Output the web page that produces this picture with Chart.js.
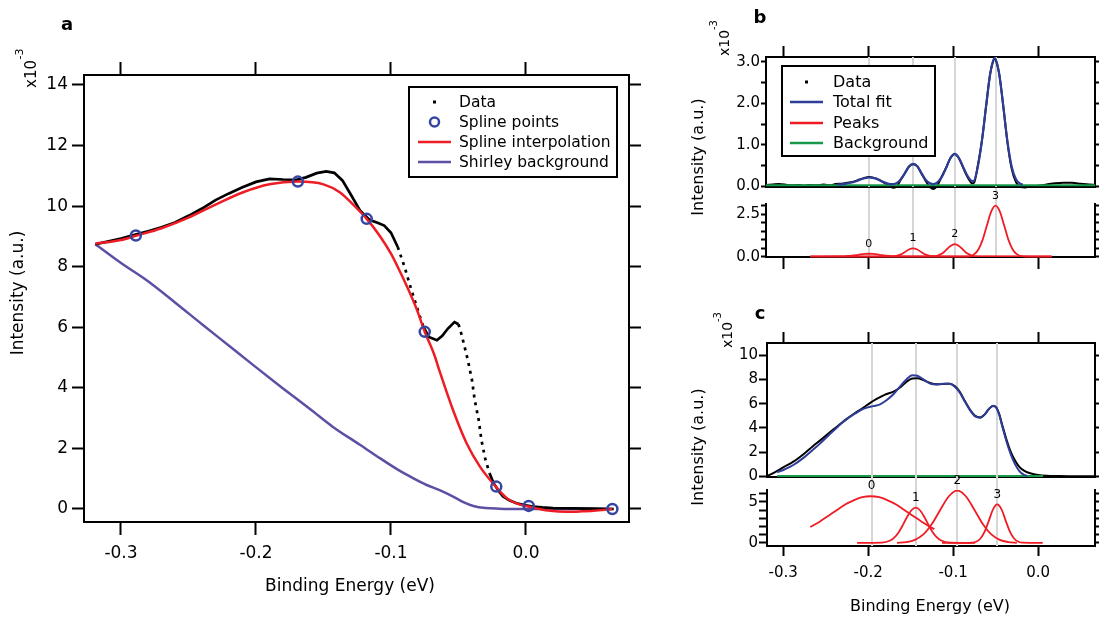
<!DOCTYPE html>
<html>
<head>
<meta charset="utf-8">
<title>Spline background and peak fits</title>
<script src="https://cdn.jsdelivr.net/npm/chart.js@4.4.1/dist/chart.umd.min.js"></script>
<style>
  html, body { margin: 0; padding: 0; background: #fff; }
  #wrap { position: relative; width: 1099px; height: 617px; overflow: hidden; background: #fff; }
  canvas { position: absolute; }
</style>
</head>
<body>
<div id="wrap">
  <canvas id="chartA" width="660" height="617" style="left:0px;top:0px"></canvas>
  <canvas id="chartBTop" width="409" height="262" style="left:690px;top:0px"></canvas>
  <canvas id="chartBBot" width="409" height="82" style="left:690px;top:188px"></canvas>
  <canvas id="chartCTop" width="409" height="262" style="left:690px;top:290px"></canvas>
  <canvas id="chartCBot" width="409" height="143" style="left:690px;top:474px"></canvas>
</div>
<script>
// ---- panel a : data, spline through chosen points, Shirley background (x10^-3) ----
const aDataX = [-0.319, -0.310, -0.300, -0.290, -0.280, -0.270, -0.260, -0.250, -0.240, -0.230, -0.220, -0.210, -0.200, -0.190, -0.180, -0.170, -0.163, -0.155, -0.148, -0.142, -0.136, -0.130, -0.123, -0.116, -0.110, -0.105, -0.100, -0.095, -0.090, -0.085, -0.080, -0.076, -0.072, -0.066, -0.062, -0.058, -0.053, -0.050, -0.048, -0.046, -0.043, -0.040, -0.038, -0.035, -0.033, -0.030, -0.027, -0.024, -0.020, -0.017, -0.012, -0.007, 0.000, 0.005, 0.012, 0.020, 0.035, 0.050, 0.065];
const aDataY = [8.74, 8.83, 8.93, 9.05, 9.17, 9.30, 9.46, 9.68, 9.92, 10.20, 10.42, 10.62, 10.80, 10.90, 10.88, 10.87, 10.95, 11.09, 11.15, 11.10, 10.85, 10.40, 9.86, 9.55, 9.45, 9.36, 9.12, 8.65, 8.00, 7.25, 6.55, 6.01, 5.68, 5.57, 5.72, 5.95, 6.17, 6.10, 5.80, 5.45, 4.90, 4.25, 3.60, 2.93, 2.27, 1.62, 1.18, 0.85, 0.58, 0.41, 0.28, 0.19, 0.12, 0.08, 0.05, 0.03, 0.02, 0.01, 0.00];
const aSplineX = [-0.319, -0.300, -0.289, -0.270, -0.250, -0.230, -0.210, -0.190, -0.169, -0.150, -0.138, -0.128, -0.118, -0.108, -0.100, -0.094, -0.088, -0.081, -0.075, -0.068, -0.064, -0.054, -0.044, -0.034, -0.022, -0.014, -0.005, 0.002, 0.010, 0.018, 0.030, 0.040, 0.050, 0.064];
const aSplineY = [8.76, 8.88, 9.02, 9.27, 9.62, 10.05, 10.45, 10.72, 10.81, 10.72, 10.46, 10.05, 9.58, 9.00, 8.43, 7.90, 7.33, 6.60, 5.85, 5.10, 4.55, 3.26, 2.17, 1.39, 0.72, 0.35, 0.15, 0.08, 0.00, -0.06, -0.09, -0.08, -0.06, 0.00];
const aKnotX = [-0.289, -0.169, -0.118, -0.075, -0.022, 0.002, 0.064];
const aKnotY = [9.03, 10.81, 9.58, 5.85, 0.74, 0.10, 0.00];
const aShirleyX = [-0.319, -0.300, -0.281, -0.260, -0.240, -0.220, -0.202, -0.180, -0.160, -0.143, -0.123, -0.108, -0.095, -0.085, -0.074, -0.064, -0.054, -0.046, -0.039, -0.030, -0.020, 0.000, 0.064];
const aShirleyY = [8.74, 8.12, 7.55, 6.82, 6.10, 5.39, 4.75, 3.98, 3.30, 2.71, 2.12, 1.67, 1.30, 1.05, 0.80, 0.62, 0.41, 0.22, 0.10, 0.03, 0.01, 0.00, 0.00];
const legendA = ['Data', 'Spline points', 'Spline interpolation', 'Shirley background'];

// ---- panel b : background-subtracted data, total fit and the four peaks ----
const bDataX = [-0.320, -0.312, -0.305, -0.298, -0.290, -0.282, -0.275, -0.268, -0.260, -0.252, -0.245, -0.238, -0.231, -0.224, -0.217, -0.210, -0.204, -0.199, -0.193, -0.187, -0.181, -0.175, -0.170, -0.166, -0.162, -0.157, -0.152, -0.147, -0.142, -0.137, -0.132, -0.127, -0.123, -0.119, -0.114, -0.108, -0.103, -0.098, -0.093, -0.088, -0.083, -0.078, -0.075, -0.071, -0.066, -0.061, -0.056, -0.051, -0.046, -0.041, -0.036, -0.031, -0.026, -0.021, -0.015, -0.008, 0.000, 0.010, 0.020, 0.030, 0.040, 0.050, 0.060, 0.067];
const bDataY = [0.03, 0.04, 0.05, 0.04, 0.02, 0.03, 0.01, 0.03, 0.02, 0.04, 0.02, 0.05, 0.06, 0.08, 0.11, 0.16, 0.20, 0.22, 0.20, 0.15, 0.08, 0.01, -0.04, 0.00, 0.14, 0.30, 0.47, 0.53, 0.48, 0.30, 0.12, -0.02, -0.07, 0.00, 0.20, 0.45, 0.68, 0.78, 0.67, 0.44, 0.22, 0.07, 0.09, 0.48, 1.10, 1.95, 2.75, 3.08, 2.75, 1.95, 1.06, 0.42, 0.10, -0.02, -0.03, -0.01, 0.01, 0.04, 0.07, 0.085, 0.08, 0.06, 0.04, 0.03];
const bFitX = [-0.236, -0.229, -0.224, -0.219, -0.214, -0.209, -0.204, -0.199, -0.194, -0.189, -0.184, -0.179, -0.174, -0.170, -0.166, -0.162, -0.157, -0.152, -0.147, -0.142, -0.137, -0.132, -0.127, -0.123, -0.118, -0.113, -0.108, -0.103, -0.098, -0.093, -0.088, -0.083, -0.079, -0.076, -0.071, -0.066, -0.061, -0.056, -0.051, -0.046, -0.041, -0.036, -0.031, -0.026, -0.021, -0.018];
const bFitY = [0.04, 0.05, 0.07, 0.09, 0.12, 0.16, 0.19, 0.21, 0.20, 0.17, 0.12, 0.08, 0.05, 0.05, 0.08, 0.15, 0.30, 0.47, 0.54, 0.48, 0.31, 0.15, 0.07, 0.05, 0.10, 0.23, 0.45, 0.68, 0.78, 0.68, 0.46, 0.25, 0.14, 0.12, 0.45, 1.10, 1.95, 2.75, 3.10, 2.75, 1.95, 1.08, 0.47, 0.17, 0.06, 0.04];
const bBgX = [-0.320, 0.067];
const bBgY = [0.02, 0.02];
const bPeak0X = [-0.268, -0.236, -0.229, -0.224, -0.219, -0.214, -0.209, -0.204, -0.199, -0.194, -0.189, -0.184, -0.179, -0.174, -0.169, -0.162, 0.016];
const bPeak0Y = [0, 0.01, 0.02, 0.04, 0.06, 0.09, 0.13, 0.16, 0.17, 0.16, 0.13, 0.09, 0.06, 0.04, 0.02, 0.01, 0];
const bPeak1X = [-0.268, -0.175, -0.167, -0.162, -0.157, -0.152, -0.147, -0.142, -0.137, -0.132, -0.127, -0.119, 0.016];
const bPeak1Y = [0, 0, 0.04, 0.12, 0.26, 0.42, 0.49, 0.42, 0.26, 0.12, 0.04, 0, 0];
const bPeak2X = [-0.268, -0.126, -0.118, -0.113, -0.108, -0.103, -0.098, -0.093, -0.088, -0.083, -0.078, -0.070, 0.016];
const bPeak2Y = [0, 0, 0.06, 0.18, 0.40, 0.63, 0.74, 0.63, 0.40, 0.18, 0.06, 0, 0];
const bPeak3X = [-0.268, -0.082, -0.075, -0.070, -0.065, -0.060, -0.055, -0.050, -0.045, -0.040, -0.035, -0.030, -0.025, -0.018, 0.016];
const bPeak3Y = [0, 0, 0.15, 0.44, 1.02, 1.86, 2.66, 3.00, 2.66, 1.86, 1.02, 0.44, 0.15, 0.02, 0];
const bCenters = [-0.199, -0.147, -0.098, -0.050];
const legendB = ['Data', 'Total fit', 'Peaks', 'Background'];

// ---- panel c : raw data, total fit and the four peaks ----
const cDataX = [-0.320, -0.310, -0.300, -0.288, -0.275, -0.265, -0.256, -0.245, -0.235, -0.225, -0.215, -0.205, -0.198, -0.190, -0.180, -0.170, -0.162, -0.155, -0.148, -0.142, -0.135, -0.127, -0.119, -0.111, -0.104, -0.098, -0.092, -0.086, -0.080, -0.074, -0.068, -0.063, -0.058, -0.053, -0.050, -0.046, -0.042, -0.037, -0.032, -0.027, -0.022, -0.017, -0.012, -0.006, 0.000, 0.010, 0.025, 0.045, 0.067];
const cDataY = [0.00, 0.35, 0.75, 1.22, 1.90, 2.50, 3.00, 3.65, 4.20, 4.75, 5.25, 5.70, 6.05, 6.40, 6.75, 7.00, 7.35, 7.80, 8.08, 8.10, 7.95, 7.70, 7.60, 7.62, 7.65, 7.45, 6.95, 6.20, 5.50, 5.00, 4.87, 5.10, 5.55, 5.80, 5.75, 5.20, 4.20, 3.00, 2.00, 1.30, 0.80, 0.50, 0.33, 0.20, 0.13, 0.07, 0.04, 0.02, 0.02];
const cFitX = [-0.307, -0.298, -0.288, -0.275, -0.265, -0.256, -0.245, -0.235, -0.225, -0.215, -0.208, -0.200, -0.194, -0.186, -0.178, -0.170, -0.162, -0.155, -0.148, -0.142, -0.135, -0.127, -0.119, -0.111, -0.104, -0.098, -0.092, -0.086, -0.080, -0.074, -0.068, -0.063, -0.058, -0.053, -0.050, -0.046, -0.042, -0.037, -0.032, -0.027, -0.022, -0.017, -0.013];
const cFitY = [0.35, 0.60, 0.95, 1.60, 2.20, 2.75, 3.50, 4.15, 4.75, 5.20, 5.50, 5.70, 5.80, 5.95, 6.30, 6.80, 7.45, 8.00, 8.35, 8.30, 8.00, 7.65, 7.58, 7.65, 7.65, 7.40, 6.90, 6.15, 5.45, 4.95, 4.85, 5.10, 5.55, 5.82, 5.75, 5.15, 4.10, 2.85, 1.80, 1.00, 0.45, 0.15, 0.05];
const cBgX = [-0.307, 0.006];
const cBgY = [0.04, 0.04];
const cPeak0X = [-0.268, -0.257, -0.247, -0.237, -0.227, -0.217, -0.207, -0.197, -0.187, -0.177, -0.167, -0.157, -0.147, -0.137, -0.127, -0.122];
const cPeak0Y = [1.95, 2.6, 3.3, 4.0, 4.7, 5.2, 5.58, 5.7, 5.58, 5.2, 4.7, 4.0, 3.3, 2.6, 1.95, 1.7];
const cPeak1X = [-0.213, -0.184, -0.174, -0.169, -0.164, -0.159, -0.154, -0.149, -0.144, -0.139, -0.134, -0.129, -0.124, -0.119, -0.114, -0.104, -0.074];
const cPeak1Y = [0, 0.04, 0.30, 0.68, 1.32, 2.21, 3.20, 3.99, 4.3, 3.99, 3.20, 2.21, 1.32, 0.68, 0.30, 0.04, 0];
const cPeak2X = [-0.166, -0.155, -0.145, -0.135, -0.125, -0.115, -0.105, -0.095, -0.085, -0.075, -0.065, -0.055, -0.045, -0.035, -0.025];
const cPeak2Y = [0.02, 0.11, 0.38, 1.04, 2.31, 4.06, 5.7, 6.4, 5.7, 4.06, 2.31, 1.04, 0.38, 0.11, 0.02];
const cPeak3X = [-0.113, -0.083, -0.078, -0.073, -0.068, -0.063, -0.058, -0.053, -0.048, -0.043, -0.038, -0.033, -0.028, -0.023, -0.018, 0.0055];
const cPeak3Y = [0, 0, 0.03, 0.15, 0.51, 1.35, 2.70, 4.09, 4.7, 4.09, 2.70, 1.35, 0.51, 0.15, 0.03, 0];
const cCenters = [-0.196, -0.144, -0.095, -0.048];
const peakNames = ['0', '1', '2', '3'];

// ---- styles ----
const RED = '#ee1d25';
const KNOT_BLUE = '#3546a2';
const PURPLE = '#5d4fa4';
const FIT_BLUE = '#2e3d98';
const GREEN = '#17994a';
const GRAY = '#d6d6d6';
const FONT = "'DejaVu Sans', sans-serif";

Chart.defaults.font.family = FONT;
Chart.defaults.color = '#000';
Chart.defaults.animation = false;

function pts(xs, ys) {
  return xs.map(function (x, i) { return {x: x, y: ys[i]}; });
}

// force the size of an axis box so the plot areas land where the figure has them
function boxSize(px) {
  return function (scale) {
    if (scale.isHorizontal()) scale.height = px; else scale.width = px;
  };
}

function fmt1(v) { return Math.abs(v) < 1e-9 ? '0.0' : v.toFixed(1); }
function fmt0(v) { return String(Math.round(v)); }
function fmtWhole1(v) { return Math.abs(v - Math.round(v)) < 1e-6 ? fmt1(Math.round(v)) : ''; }
function fmtOnly(list, digits) {
  return function (v) {
    for (let i = 0; i < list.length; i++) {
      if (Math.abs(v - list[i]) < 1e-6) return list[i].toFixed(digits);
    }
    return '';
  };
}

function makeAxis(o) {
  return {
    type: 'linear',
    position: o.pos,
    min: o.min,
    max: o.max,
    afterFit: boxSize(o.size),
    border: {display: o.border !== false, color: '#000', width: 2},
    grid: {drawOnChartArea: false, drawTicks: !!o.tick, tickLength: o.tick || 0, tickWidth: 2, color: '#000'},
    ticks: {
      display: !!o.fmt,
      stepSize: o.step || 1,
      includeBounds: false,
      autoSkip: false,
      maxRotation: 0,
      padding: o.pad || 0,
      font: {size: o.fs || 15},
      callback: o.fmt || function () { return ''; }
    }
  };
}

function drawText(ctx, t, ox, oy) {
  ctx.save();
  ctx.translate(t.x - ox, t.y - oy);
  if (t.rot) ctx.rotate(t.rot * Math.PI / 180);
  ctx.font = t.font;
  ctx.fillStyle = '#000';
  ctx.textAlign = 'center';
  ctx.textBaseline = 'middle';
  ctx.fillText(t.text, 0, 0);
  ctx.restore();
}

function drawLegend(ctx, lg, ox, oy) {
  const x = lg.box[0] - ox, y = lg.box[1] - oy;
  const w = lg.box[2] - lg.box[0], h = lg.box[3] - lg.box[1];
  ctx.save();
  ctx.fillStyle = '#fff';
  ctx.fillRect(x, y, w, h);
  ctx.strokeStyle = '#000';
  ctx.lineWidth = 2;
  ctx.strokeRect(x, y, w, h);
  lg.items.forEach(function (it, i) {
    const cy = lg.rows[i] - oy;
    const s0 = lg.sym[0] - ox, s1 = lg.sym[1] - ox, mid = (s0 + s1) / 2;
    if (it.kind === 'line') {
      ctx.strokeStyle = it.color;
      ctx.lineWidth = 2.5;
      ctx.beginPath(); ctx.moveTo(s0, cy); ctx.lineTo(s1, cy); ctx.stroke();
    } else if (it.kind === 'dot') {
      ctx.fillStyle = it.color;
      ctx.fillRect(mid - 1.5, cy - 1.5, 3, 3);
    } else {
      ctx.strokeStyle = it.color;
      ctx.lineWidth = 2.5;
      ctx.beginPath(); ctx.arc(mid, cy, 4.5, 0, Math.PI * 2); ctx.stroke();
    }
    ctx.fillStyle = '#000';
    ctx.font = lg.font;
    ctx.textAlign = 'left';
    ctx.textBaseline = 'middle';
    ctx.fillText(it.label, lg.textX - ox, cy + 1);
  });
  ctx.restore();
}

// per-chart extras: grey peak markers, peak numbers, free texts, legend box
function extras(cfg) {
  return {
    id: 'extras',
    beforeDatasetsDraw: function (chart) {
      if (!cfg.vlines) return;
      const ctx = chart.ctx, sx = chart.scales.x, area = chart.chartArea;
      const y0 = cfg.vlines.fromCanvasTop ? 0 : area.top;
      ctx.save();
      ctx.strokeStyle = GRAY;
      ctx.lineWidth = 2;
      cfg.vlines.values.forEach(function (v) {
        const px = Math.round(sx.getPixelForValue(v));
        ctx.beginPath(); ctx.moveTo(px, y0); ctx.lineTo(px, area.bottom); ctx.stroke();
      });
      ctx.restore();
    },
    afterDraw: function (chart) {
      const ctx = chart.ctx;
      if (cfg.peaks) {
        const sx = chart.scales.x, sy = chart.scales.y;
        ctx.save();
        ctx.font = cfg.peaks.font;
        ctx.fillStyle = '#000';
        ctx.textAlign = 'center';
        ctx.textBaseline = 'middle';
        cfg.peaks.names.forEach(function (name, i) {
          const top = Math.max.apply(null, cfg.peaks.ys[i]);
          ctx.fillText(name, sx.getPixelForValue(cfg.peaks.centers[i]), sy.getPixelForValue(top) - 10);
        });
        ctx.restore();
      }
      (cfg.texts || []).forEach(function (t) { drawText(ctx, t, cfg.left, cfg.top); });
      if (cfg.legend) drawLegend(ctx, cfg.legend, cfg.left, cfg.top);
    }
  };
}

// steep stretches of the measured curve show up as separate dots
function steepDots(ctx) {
  const dx = Math.abs(ctx.p1.x - ctx.p0.x), dy = Math.abs(ctx.p1.y - ctx.p0.y);
  return dy > 2.5 * dx ? [3, 5] : undefined;
}

function baseOptions(scales, padTop) {
  return {
    responsive: false,
    animation: false,
    layout: {padding: {top: padTop || 0, left: 0, right: 0, bottom: 0}},
    plugins: {legend: {display: false}, tooltip: {enabled: false}},
    elements: {point: {radius: 0, hoverRadius: 0}},
    scales: scales
  };
}

// ---------------- panel a ----------------
const aX = [-0.3274, 0.0763], aY = [-0.43, 14.33];
new Chart(document.getElementById('chartA'), {
  type: 'line',
  data: {
    datasets: [
      {label: legendA[1], data: pts(aKnotX, aKnotY), showLine: false, pointRadius: 5, pointBorderWidth: 2.5,
        pointBorderColor: KNOT_BLUE, pointBackgroundColor: 'rgba(0,0,0,0)'},
      {label: legendA[2], data: pts(aSplineX, aSplineY), borderColor: RED, borderWidth: 2.5, cubicInterpolationMode: 'monotone'},
      {label: legendA[0], data: pts(aDataX, aDataY), borderColor: '#000', borderWidth: 2.7, borderCapStyle: 'butt',
        segment: {borderDash: steepDots}},
      {label: legendA[3], data: pts(aShirleyX, aShirleyY), borderColor: PURPLE, borderWidth: 2.5, cubicInterpolationMode: 'monotone'}
    ]
  },
  options: baseOptions({
    x: makeAxis({pos: 'bottom', min: aX[0], max: aX[1], step: 0.1, size: 95, tick: 13, pad: 8, fs: 17, fmt: fmt1}),
    x2: makeAxis({pos: 'top', min: aX[0], max: aX[1], step: 0.1, size: 75, tick: 13}),
    y: makeAxis({pos: 'left', min: aY[0], max: aY[1], step: 2, size: 84, tick: 12, pad: 4, fs: 17, fmt: fmt0}),
    y2: makeAxis({pos: 'right', min: aY[0], max: aY[1], step: 2, size: 31, tick: 12})
  }),
  plugins: [extras({
    left: 0, top: 0,
    texts: [
      {text: 'a', x: 67, y: 25, font: 'bold 18px ' + FONT},
      {text: 'x10', x: 32, y: 74, rot: -90, font: '15px ' + FONT},
      {text: '-3', x: 20, y: 54, rot: -90, font: '11px ' + FONT},
      {text: 'Intensity (a.u.)', x: 19, y: 293, rot: -90, font: '17px ' + FONT},
      {text: 'Binding Energy (eV)', x: 350, y: 587, font: '17px ' + FONT}
    ],
    legend: {
      box: [409, 87, 617, 177], rows: [102, 122, 142, 162], sym: [418, 451], textX: 459, font: '15.5px ' + FONT,
      items: [
        {label: legendA[0], kind: 'dot', color: '#000'},
        {label: legendA[1], kind: 'circle', color: KNOT_BLUE},
        {label: legendA[2], kind: 'line', color: RED},
        {label: legendA[3], kind: 'line', color: PURPLE}
      ]
    }
  })]
});

// ---------------- panel b ----------------
const bX = [-0.320, 0.067];
new Chart(document.getElementById('chartBTop'), {
  type: 'line',
  data: {
    datasets: [
      {label: legendB[1], data: pts(bFitX, bFitY), borderColor: FIT_BLUE, borderWidth: 2.2, cubicInterpolationMode: 'monotone'},
      {label: legendB[3], data: pts(bBgX, bBgY), borderColor: GREEN, borderWidth: 2},
      {label: legendB[0], data: pts(bDataX, bDataY), borderColor: '#000', borderWidth: 2, tension: 0.3,
        clip: {left: 2, top: 2, right: 2, bottom: 6}}
    ]
  },
  options: baseOptions({
    x: makeAxis({pos: 'bottom', min: bX[0], max: bX[1], step: 0.1, size: 75}),
    x2: makeAxis({pos: 'top', min: bX[0], max: bX[1], step: 0.1, size: 57, tick: 11}),
    y: makeAxis({pos: 'left', min: -0.02, max: 3.12, step: 0.5, size: 76, tick: 5, pad: 1, fs: 15, fmt: fmtWhole1}),
    y2: makeAxis({pos: 'right', min: -0.02, max: 3.12, step: 0.5, size: 4, tick: 4})
  }),
  plugins: [extras({
    left: 690, top: 0,
    vlines: {values: bCenters, fromCanvasTop: false},
    texts: [
      {text: 'b', x: 760, y: 18, font: 'bold 18px ' + FONT},
      {text: 'x10', x: 725, y: 43, rot: -90, font: '14px ' + FONT},
      {text: '-3', x: 714, y: 25, rot: -90, font: '10px ' + FONT},
      {text: 'Intensity (a.u.)', x: 699, y: 157, rot: -90, font: '16px ' + FONT}
    ],
    legend: {
      box: [782, 66, 935, 156], rows: [82, 102, 123, 143], sym: [790, 823], textX: 833, font: '16px ' + FONT,
      items: [
        {label: legendB[0], kind: 'dot', color: '#000'},
        {label: legendB[1], kind: 'line', color: FIT_BLUE},
        {label: legendB[2], kind: 'line', color: RED},
        {label: legendB[3], kind: 'line', color: GREEN}
      ]
    }
  })]
});

const bPeaksY = [bPeak0Y, bPeak1Y, bPeak2Y, bPeak3Y];
new Chart(document.getElementById('chartBBot'), {
  type: 'line',
  data: {
    datasets: [
      {label: 'Peak 0', data: pts(bPeak0X, bPeak0Y), borderColor: RED, borderWidth: 1.8, cubicInterpolationMode: 'monotone'},
      {label: 'Peak 1', data: pts(bPeak1X, bPeak1Y), borderColor: RED, borderWidth: 1.8, cubicInterpolationMode: 'monotone'},
      {label: 'Peak 2', data: pts(bPeak2X, bPeak2Y), borderColor: RED, borderWidth: 1.8, cubicInterpolationMode: 'monotone'},
      {label: 'Peak 3', data: pts(bPeak3X, bPeak3Y), borderColor: RED, borderWidth: 1.8, cubicInterpolationMode: 'monotone',
        clip: {left: 2, top: 4, right: 2, bottom: 2}}
    ]
  },
  options: baseOptions({
    x: makeAxis({pos: 'bottom', min: bX[0], max: bX[1], step: 0.1, size: 13, tick: 12}),
    y: makeAxis({pos: 'left', min: -0.02, max: 3.1, step: 0.5, size: 76, tick: 5, pad: 1, fs: 15, fmt: fmtOnly([0, 2.5], 1)}),
    y2: makeAxis({pos: 'right', min: -0.02, max: 3.1, step: 0.5, size: 4, tick: 4})
  }, 16),
  plugins: [extras({
    left: 690, top: 188,
    vlines: {values: bCenters, fromCanvasTop: true},
    peaks: {names: peakNames, centers: bCenters, ys: bPeaksY, font: '11px ' + FONT}
  })]
});

// ---------------- panel c ----------------
const cX = [-0.319, 0.067];
new Chart(document.getElementById('chartCTop'), {
  type: 'line',
  data: {
    datasets: [
      {label: 'Total fit', data: pts(cFitX, cFitY), borderColor: FIT_BLUE, borderWidth: 2, cubicInterpolationMode: 'monotone'},
      {label: 'Background', data: pts(cBgX, cBgY), borderColor: GREEN, borderWidth: 2},
      {label: 'Data', data: pts(cDataX, cDataY), borderColor: '#000', borderWidth: 2, cubicInterpolationMode: 'monotone'}
    ]
  },
  options: baseOptions({
    x: makeAxis({pos: 'bottom', min: cX[0], max: cX[1], step: 0.1, size: 75}),
    x2: makeAxis({pos: 'top', min: cX[0], max: cX[1], step: 0.1, size: 53, tick: 11}),
    y: makeAxis({pos: 'left', min: -0.04, max: 11, step: 2, size: 77, tick: 8, pad: 1, fs: 15, fmt: fmt0}),
    y2: makeAxis({pos: 'right', min: -0.04, max: 11, step: 2, size: 4, tick: 4})
  }),
  plugins: [extras({
    left: 690, top: 290,
    vlines: {values: cCenters, fromCanvasTop: false},
    texts: [
      {text: 'c', x: 760, y: 314, font: 'bold 18px ' + FONT},
      {text: 'x10', x: 728, y: 335, rot: -90, font: '14px ' + FONT},
      {text: '-3', x: 718, y: 317, rot: -90, font: '10px ' + FONT},
      {text: 'Intensity (a.u.)', x: 699, y: 447, rot: -90, font: '16px ' + FONT}
    ]
  })]
});

const cPeaksY = [cPeak0Y, cPeak1Y, cPeak2Y, cPeak3Y];
new Chart(document.getElementById('chartCBot'), {
  type: 'line',
  data: {
    datasets: [
      {label: 'Peak 0', data: pts(cPeak0X, cPeak0Y), borderColor: RED, borderWidth: 1.8, cubicInterpolationMode: 'monotone'},
      {label: 'Peak 1', data: pts(cPeak1X, cPeak1Y), borderColor: RED, borderWidth: 1.8, cubicInterpolationMode: 'monotone'},
      {label: 'Peak 2', data: pts(cPeak2X, cPeak2Y), borderColor: RED, borderWidth: 1.8, cubicInterpolationMode: 'monotone'},
      {label: 'Peak 3', data: pts(cPeak3X, cPeak3Y), borderColor: RED, borderWidth: 1.8, cubicInterpolationMode: 'monotone'}
    ]
  },
  options: baseOptions({
    x: makeAxis({pos: 'bottom', min: cX[0], max: cX[1], step: 0.1, size: 71, tick: 10, pad: 8, fs: 15, fmt: fmt1}),
    y: makeAxis({pos: 'left', min: -0.37, max: 6.46, step: 1, size: 77, tick: 8, pad: 1, fs: 15, fmt: fmtOnly([0, 5], 0)}),
    y2: makeAxis({pos: 'right', min: -0.37, max: 6.46, step: 1, size: 4, tick: 4})
  }, 16),
  plugins: [extras({
    left: 690, top: 474,
    vlines: {values: cCenters, fromCanvasTop: true},
    peaks: {names: peakNames, centers: cCenters, ys: cPeaksY, font: '12px ' + FONT},
    texts: [
      {text: 'Binding Energy (eV)', x: 930, y: 607, font: '16px ' + FONT}
    ]
  })]
});
</script>
</body>
</html>
